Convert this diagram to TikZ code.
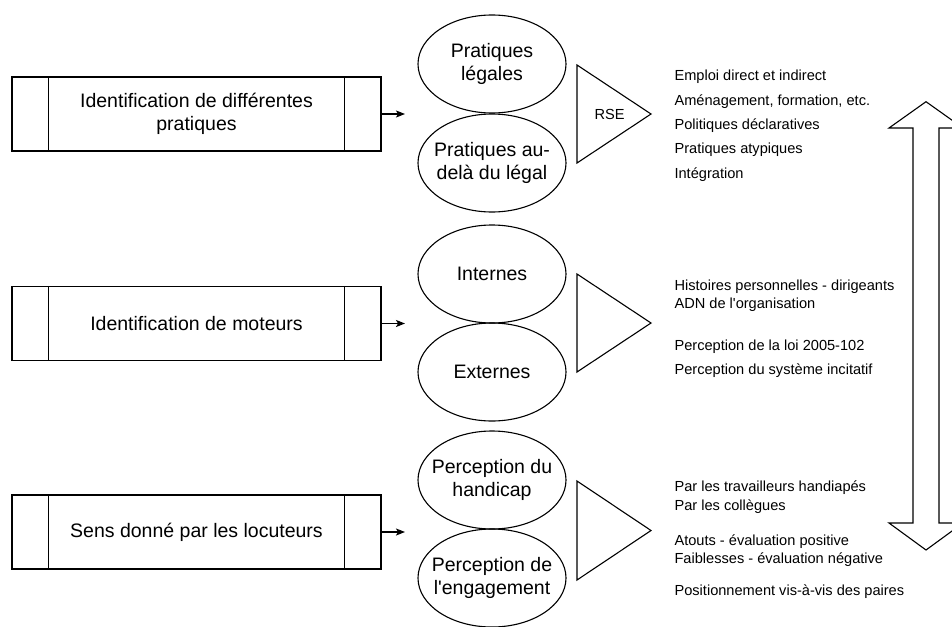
\documentclass[tikz,border=0pt]{standalone}
\usepackage{fontspec}
\setmainfont{Liberation Sans}
\usetikzlibrary{shapes.geometric,arrows.meta}
\begin{document}
\begin{tikzpicture}[x=1pt,y=-1pt,line width=1.1pt,
  procbox/.style={draw, minimum width=369pt, minimum height=74pt, inner sep=0pt,
    align=center, font=\fontsize{19.5}{22.8}\selectfont},
  oval/.style={ellipse, draw, minimum width=148pt, minimum height=98pt, inner sep=0pt},
  ovaltext/.style={align=center, inner sep=0pt, font=\fontsize{19.5}{23.2}\selectfont},
  item/.style={anchor=base west, inner sep=0pt, font=\fontsize{14.6}{17}\selectfont},
  link/.style={-{Stealth[length=9pt,width=7pt,inset=2pt]}, line width=1.1pt},
  tri/.style={draw, line width=1.1pt, line join=miter}]
\useasboundingbox (0,0) rectangle (952,626);
\clip (0,0) rectangle (952,626);

% process boxes
\node[procbox] (b1) at (196.5,114) {Identification de différentes\\pratiques};
\node[procbox] (b2) at (196.5,323.5) {Identification de moteurs};
\node[procbox] (b3) at (196.5,532) {Sens donné par les locuteurs};
\foreach \b in {b1,b2,b3}{
  \draw ([xshift=37pt]\b.north west) -- ([xshift=37pt]\b.south west);
  \draw ([xshift=-37pt]\b.north east) -- ([xshift=-37pt]\b.south east);
}

% arrow ends
\coordinate (e1) at (405,114);
\coordinate (e2) at (405,323.5);
\coordinate (e3) at (405,532);
\draw[link] (b1.east) -- (e1);
\draw[link] (b2.east) -- (e2);
\draw[link] (b3.east) -- (e3);

% ellipses
\node[oval] (o1) at (492,64) {};
\node[ovaltext] (t1) at (o1) {Pratiques\\légales};
\node[oval] (o2) at (492,163) {};
\node[ovaltext] (t2) at (o2) {Pratiques au-\\delà du légal};
\node[oval] (o3) at (492,274) {};
\node[ovaltext] (t3) at (o3) {Internes};
\node[oval] (o4) at (492,372) {};
\node[ovaltext] (t4) at (o4) {Externes};
\node[oval] (o5) at (492,480) {};
\node[ovaltext] (t5) at (o5) {Perception du\\handicap};
\node[oval] (o6) at (492,578) {};
\node[ovaltext] (t6) at (o6) {Perception de\\l\textquotesingle engagement};

% triangles
\draw[tri] (577,65) -- (651,114) -- (577,163) -- cycle;
\node[inner sep=0pt, font=\fontsize{14.6}{17}\selectfont] (rse) at (609.5,114) {RSE};
\draw[tri] (577,274) -- (651,323) -- (577,372) -- cycle;
\draw[tri] (577,481) -- (651,530.5) -- (577,580) -- cycle;

% text items
\node[item] (a1) at (674,80.5) {Emploi direct et indirect};
\node[item] (a2) at (674,105) {Aménagement, formation, etc.};
\node[item] (a3) at (674,129) {Politiques déclaratives};
\node[item] (a4) at (674,153.5) {Pratiques atypiques};
\node[item] (a5) at (674,178) {Intégration};

\node[item] (m1) at (674,290) {Histoires personnelles - dirigeants};
\node[item] (m2) at (674,308.5) {ADN de l\textquotesingle organisation};
\node[item] (m3) at (674,350) {Perception de la loi 2005-102};
\node[item] (m4) at (674,374) {Perception du système incitatif};

\node[item] (s1) at (674,491) {Par les travailleurs handiapés};
\node[item] (s2) at (674,510) {Par les collègues};
\node[item] (s3) at (674,545) {Atouts - évaluation positive};
\node[item] (s4) at (674,563) {Faiblesses - évaluation négative};
\node[item] (s5) at (674,595) {Positionnement vis-à-vis des paires};

% double arrow
\draw[fill=white, line join=miter] (926,101.7) -- (963,128) -- (939,128) -- (939,523)
  -- (963,523) -- (926,550) -- (889,523) -- (913,523) -- (913,128) -- (889,128) -- cycle;
\end{tikzpicture}
\end{document}
